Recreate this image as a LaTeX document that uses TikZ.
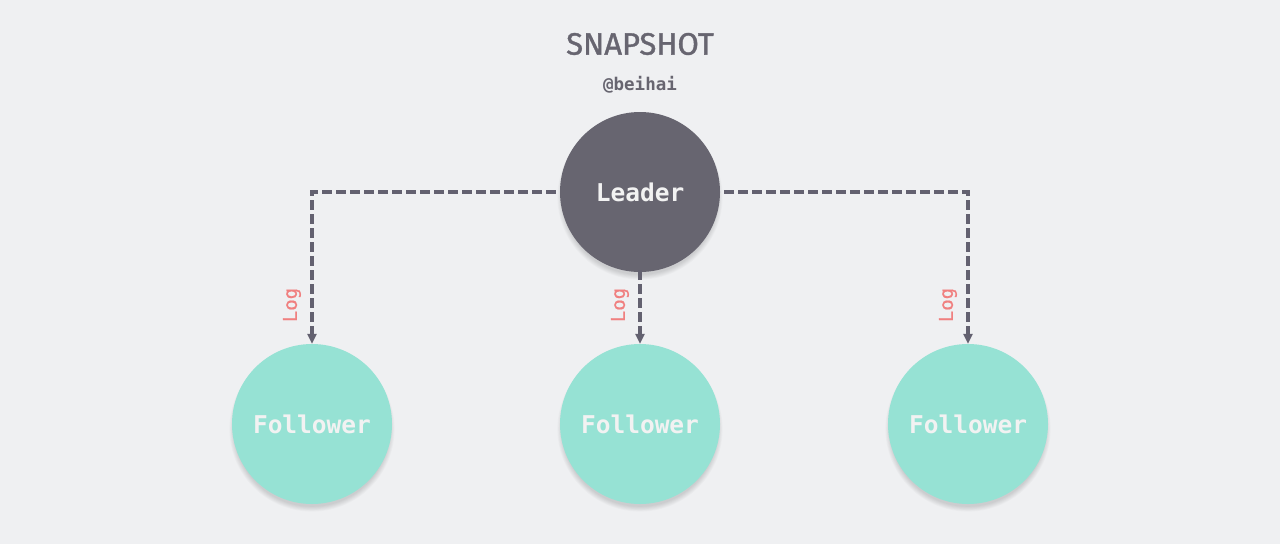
\documentclass[tikz,border=0pt]{standalone}
\usepackage{fontspec}
\setmainfont{Fira Sans}
\setmonofont{DejaVu Sans Mono}
\newfontfamily\titlefont{Fira Sans}[FakeBold=1.2]
\newfontfamily\logfont{DejaVu Sans Mono}[FakeBold=0.8]
\usetikzlibrary{arrows.meta}
\definecolor{bg}{HTML}{EFF0F2}
\definecolor{leaderc}{HTML}{676570}
\definecolor{followc}{HTML}{96E2D4}
\definecolor{linec}{HTML}{636170}
\definecolor{logc}{HTML}{F08080}
\definecolor{txtc}{HTML}{F2F2F2}
\tikzset{
  circ/.style={circle, minimum size=160pt, inner sep=0pt, text=txtc,
    font=\ttfamily\bfseries\fontsize{24.5}{24.5}\selectfont},
  leadernode/.style={circ, fill=leaderc},
  follownode/.style={circ, fill=followc},
  shadowring/.style={fill=black, opacity=0.02},
  conn/.style={draw=linec, line width=3.6pt, dash pattern=on 10pt off 4pt,
    -{Triangle[length=10pt,width=9pt]}},
  loglabel/.style={text=logc, rotate=90, font=\logfont\fontsize{19}{19}\selectfont}
}
\begin{document}
\begin{tikzpicture}[x=1pt,y=-1pt]
\fill[bg] (0,0) rectangle (1280,544);
\useasboundingbox (0,0) rectangle (1280,544);
\node[text=leaderc, font=\titlefont\fontsize{31}{31}\selectfont] (title) at (640,44) {SNAPSHOT};
\node[text=leaderc, font=\ttfamily\bfseries\fontsize{17.5}{17.5}\selectfont] (author) at (640,85) {@beihai};
% soft shadows
\foreach \cx/\cy in {640/192, 312/424, 640/424, 968/424}{
  \foreach \i in {1,...,7}{
    \fill[shadowring] (\cx,\cy+5) circle[radius=77+\i*0.8];
  }
}
\node[leadernode] (L) at (640,192) {Leader};
\node[follownode] (F1) at (312,424) {Follower};
\node[follownode] (F2) at (640,424) {Follower};
\node[follownode] (F3) at (968,424) {Follower};
\draw[conn] ([xshift=-4pt]L.west) -| (F1.north);
\draw[conn] ([yshift=2pt]L.south) -- (F2.north);
\draw[conn] ([xshift=4pt]L.east) -| (F3.north);
\node[loglabel] (log1) at (292,305) {Log};
\node[loglabel] (log2) at (620,305) {Log};
\node[loglabel] (log3) at (948,305) {Log};
\end{tikzpicture}
\end{document}
